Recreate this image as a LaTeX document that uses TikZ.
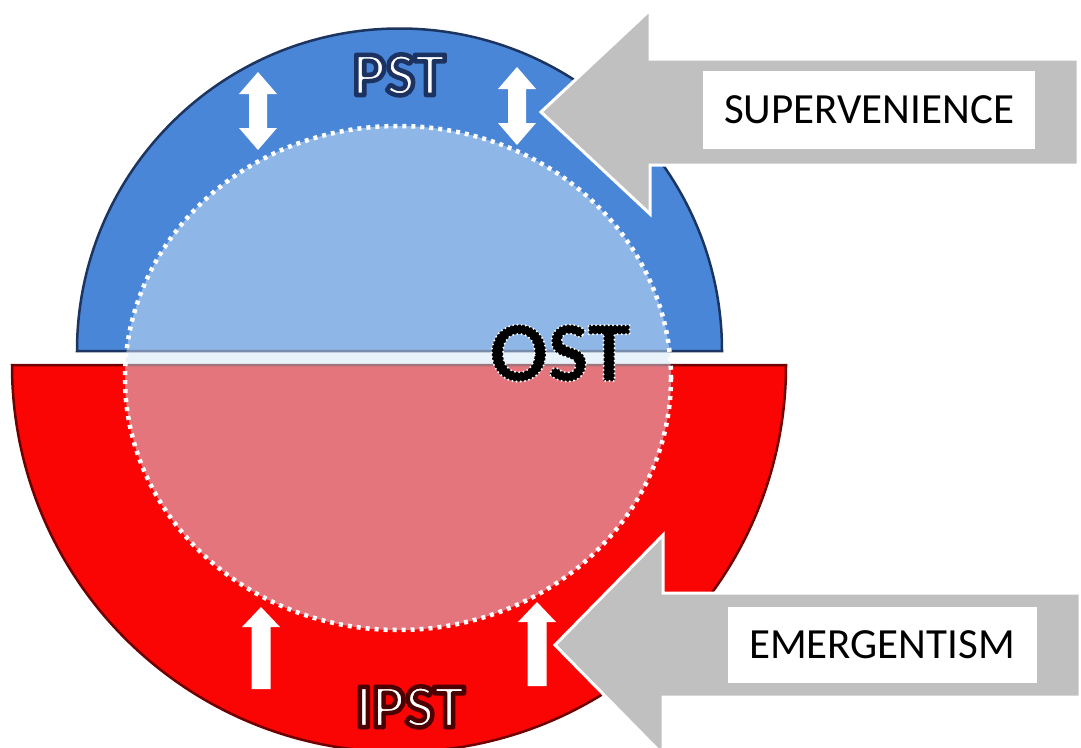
\documentclass[tikz,border=0pt]{standalone}
\usepackage{fontspec}
\setmainfont{Carlito}
\definecolor{pstblue}{RGB}{74,134,216}
\definecolor{pstrim}{RGB}{28,52,96}
\definecolor{ipstred}{RGB}{250,4,4}
\definecolor{ipstrim}{RGB}{110,0,0}
\definecolor{ostfill}{RGB}{210,230,246}
\definecolor{arrowgray}{RGB}{192,192,192}
% outlined letters: fill colour from \color, stroke set here
\newcommand\outlined[3]{{\color{#1}\special{pdf:literal direct #2 2 Tr}#3\special{pdf:literal direct 0 Tr [] 0 d 0 J 1 w}}}
\begin{document}
\begin{tikzpicture}[x=1pt,y=-1pt,
  bigarrow/.style={fill=arrowgray,draw=white,line width=3pt,line join=miter},
  labelbox/.style={fill=white,inner sep=0pt,font=\fontsize{43}{43}\selectfont},
  levelname/.style={anchor=base,font=\bfseries\fontsize{62}{62}\selectfont}]
\useasboundingbox (0,0) rectangle (1081,747);
\clip (0,0) rectangle (1081,747);
% PST
\filldraw[fill=pstblue,draw=pstrim,line width=2.5pt] (77,351) arc[start angle=180,end angle=360,radius=322.5] -- cycle;
% IPST
\filldraw[fill=ipstred,draw=ipstrim,line width=2.5pt] (12,365) arc[start angle=180,end angle=0,radius=387] -- cycle;
% OST
\fill[ostfill,opacity=0.5] (398,378) ellipse[x radius=273,y radius=252];
\draw[white,line width=4.5pt,dash pattern=on 4pt off 5pt] (398,378) ellipse[x radius=273,y radius=252];
%
\foreach \x/\a/\b in {258/72/150, 517/67/145}
  \fill[white] (\x,\a) -- ({\x+19},{\a+22}) -- ({\x+9},{\a+22}) -- ({\x+9},{\b-22})
    -- ({\x+19},{\b-22}) -- (\x,\b) -- ({\x-19},{\b-22}) -- ({\x-9},{\b-22})
    -- ({\x-9},{\a+22}) -- ({\x-19},{\a+22}) -- cycle;
\foreach \x/\a/\b in {261/607/689, 537/602/686}
  \fill[white] (\x,\a) -- ({\x+19},{\a+20}) -- ({\x+9.5},{\a+20}) -- ({\x+9.5},\b)
    -- ({\x-9.5},\b) -- ({\x-9.5},{\a+20}) -- ({\x-19},{\a+20}) -- cycle;
%
\node[levelname] (pst) at (399,95) {\outlined{white}{0.11 0.2 0.38 RG 4.5 w 1 j}{PST}};
\node[levelname] (ipst) at (410,727) {\outlined{white}{0.3 0 0 RG 4.5 w 1 j}{IPST}};
\node[anchor=base,font=\bfseries\fontsize{86}{86}\selectfont] (ost) at (560,381) {\outlined{black}{1 1 1 RG 2.2 w 1 J [0 4.2] 0 d}{OST}};
%
\draw[bigarrow] (541,112) -- (650,10) -- (650,59) -- (1078,59) -- (1078,165) -- (650,165) -- (650,214) -- cycle;
\draw[bigarrow] (555,645) -- (663,535) -- (663,593) -- (1080,593) -- (1080,697) -- (663,697) -- (663,755) -- cycle;
%
\node[labelbox,minimum width=332pt,minimum height=78pt] (sup) at (869,110) {SUPERVENIENCE};
\node[labelbox,minimum width=309pt,minimum height=76pt] (emg) at (882,645) {EMERGENTISM};
\end{tikzpicture}
\end{document}
